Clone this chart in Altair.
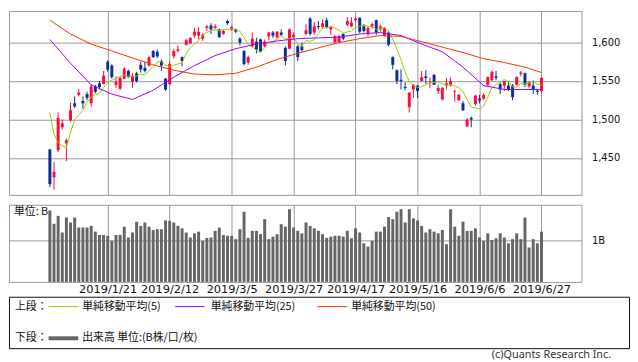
import altair as alt
import pandas as pd

# ---------------- data ----------------
opens = [1461, 1425, 1460, 1490, 1469, 1499, 1521, 1532, 1524, 1533,
         1521, 1543, 1547, 1546, 1575, 1570, 1545, 1540, 1553, 1563,
         1549, 1560, 1571, 1567, 1570, 1589, 1588, 1576, 1553, 1546,
         1582, 1589, 1581, 1597, 1599, 1609, 1609, 1605, 1619, 1622,
         1619, 1617, 1611, 1628, 1617, 1617, 1605, 1589, 1574, 1595,
         1601, 1604, 1595, 1608, 1613, 1607, 1613, 1593, 1592, 1607,
         1595, 1595, 1611, 1631, 1613, 1621.5, 1620, 1629, 1617, 1600,
         1600, 1611, 1623, 1621, 1629, 1632, 1621, 1611, 1621, 1629,
         1617, 1609, 1613, 1581, 1564, 1551.5, 1542.5, 1516, 1539, 1544,
         1550, 1556, 1549, 1558, 1537, 1526, 1544, 1545, 1536, 1525,
         1521, 1491, 1502, 1520, 1527, 1527, 1545, 1551, 1556, 1546,
         1544, 1544, 1544, 1545, 1559, 1560, 1543, 1544, 1537.5, 1537]
highs = [1462, 1445, 1509, 1500, 1475, 1522, 1530, 1540, 1530, 1536,
         1546, 1545, 1550, 1563, 1577, 1572, 1556, 1556, 1568, 1565,
         1560, 1562, 1575, 1575, 1583, 1590, 1591, 1578, 1554, 1575,
         1592, 1596, 1582, 1605, 1607, 1619, 1620, 1612, 1623, 1625,
         1624, 1618, 1617, 1630, 1622, 1618, 1607, 1590, 1583, 1613,
         1606, 1605, 1604, 1614, 1615, 1615, 1617, 1595, 1618, 1613,
         1597, 1600, 1624, 1633, 1627, 1628, 1630, 1632, 1621, 1610,
         1610, 1612, 1633, 1633, 1633, 1633, 1624, 1621, 1626, 1630,
         1623, 1620, 1615, 1582, 1565, 1565, 1548, 1535, 1546, 1545,
         1563, 1564, 1555, 1559, 1545, 1542, 1554, 1555, 1539, 1533,
         1524, 1502, 1504, 1532, 1532, 1534, 1556, 1563, 1563, 1548,
         1550, 1550, 1546, 1556, 1563, 1561, 1550, 1551, 1539, 1555]
lows = [1412, 1409, 1458, 1487, 1446, 1497, 1515, 1530, 1514, 1525,
        1517, 1534, 1539, 1546, 1562, 1553, 1541, 1538, 1553, 1554,
        1541, 1548, 1561, 1561, 1569, 1580, 1580, 1563, 1537, 1545,
        1579, 1587, 1569, 1596, 1598, 1606, 1604, 1602, 1615, 1611,
        1617, 1606, 1610, 1623, 1615, 1612, 1596, 1570, 1571, 1594,
        1586, 1587, 1594, 1603, 1606, 1604, 1608, 1570, 1591, 1604,
        1576, 1588, 1610, 1609, 1610, 1617, 1618, 1618, 1610, 1598,
        1600, 1603, 1621, 1620, 1627, 1612, 1613, 1608, 1618, 1610,
        1614, 1608, 1595, 1565, 1546, 1539, 1538, 1509, 1528, 1528,
        1549, 1546, 1541, 1545, 1533, 1525, 1539, 1543, 1523, 1524,
        1511, 1490, 1490, 1518, 1521, 1525, 1543, 1550, 1551, 1533,
        1537, 1537, 1525, 1544, 1556, 1542, 1541, 1533, 1532, 1535]
closes = [1416, 1432, 1502, 1495, 1473, 1512, 1517, 1535, 1521, 1528,
          1543, 1536, 1542, 1557, 1565, 1555, 1549, 1554, 1566, 1555,
          1557, 1550, 1565, 1563, 1581, 1581, 1582, 1570, 1539, 1572,
          1589, 1591, 1576, 1603, 1606, 1614, 1614, 1610, 1621, 1617,
          1621, 1607, 1615, 1625, 1620, 1614, 1600, 1572, 1581, 1605,
          1591, 1588, 1601, 1613, 1609, 1614, 1610, 1576, 1617, 1610,
          1581, 1590, 1616, 1611, 1621, 1620, 1625, 1620, 1620, 1608,
          1608, 1605, 1628, 1626, 1631, 1614, 1615, 1619, 1624, 1613,
          1621, 1619, 1597, 1571, 1550, 1550, 1541, 1535, 1545, 1537,
          1555, 1554, 1550, 1545, 1541, 1541, 1547, 1550, 1537, 1532,
          1512, 1500, 1500, 1531, 1525, 1532, 1555, 1562, 1554, 1539,
          1550, 1539, 1529, 1555, 1561, 1545, 1548, 1539, 1536, 1554]
volumes = [1.72, 1.40, 1.59, 1.19, 1.55, 1.43, 1.55, 1.31, 1.31, 1.31,
           1.35, 1.21, 1.13, 1.13, 1.11, 0.99, 1.13, 1.13, 1.33, 1.07,
           1.19, 1.45, 1.35, 1.43, 1.33, 1.25, 1.27, 1.27, 1.48, 1.47,
           1.43, 1.35, 1.29, 1.19, 1.07, 1.17, 1.21, 0.99, 1.06, 1.07,
           1.23, 1.31, 1.13, 1.11, 1.11, 1.03, 1.27, 1.69, 1.06, 1.23,
           1.23, 1.15, 1.51, 1.03, 1.09, 1.15, 1.39, 1.33, 1.75, 1.31,
           1.23, 1.17, 1.43, 1.35, 1.29, 1.23, 1.15, 1.06, 1.09, 1.11,
           1.11, 1.09, 1.23, 1.05, 1.29, 1.19, 0.93, 0.85, 0.99, 1.21,
           1.21, 1.33, 1.56, 1.51, 1.69, 1.75, 1.43, 1.75, 1.53, 1.48,
           1.35, 1.19, 1.27, 1.21, 1.17, 1.25, 0.91, 1.75, 1.33, 1.11,
           1.45, 1.23, 1.23, 1.29, 1.07, 0.99, 1.17, 1.01, 1.05, 1.17,
           1.07, 0.93, 1.03, 1.17, 1.03, 1.55, 0.83, 1.03, 0.93, 1.21]

# 5-day average for the first days (they depend on earlier sessions)
ma5_head = [1509, 1481, 1470, 1466]
# 25- and 50-day averages read at sample sessions
ma_idx = [0, 5, 10, 15, 20, 25, 30, 35, 40, 45, 50, 55, 60, 65, 70, 75,
          80, 85, 90, 95, 100, 105, 110, 115, 119]
ma25 = [1604, 1573, 1545, 1533, 1526, 1538, 1555, 1570, 1583, 1592, 1598,
        1602, 1605, 1606, 1607, 1611, 1613, 1609, 1598, 1588, 1568, 1544,
        1539, 1539, 1539]
ma50 = [1629, 1611, 1598, 1589, 1580, 1571, 1564, 1559, 1558, 1560, 1568,
        1578, 1586, 1593, 1600, 1605, 1609, 1608, 1601, 1594, 1587, 1579,
        1574, 1568, 1561]

tick_idx = [14, 29, 44, 59, 74, 89, 104, 119]
tick_labels = ["2019/1/21", "2019/2/12", "2019/3/5", "2019/3/27",
               "2019/4/17", "2019/5/16", "2019/6/6", "2019/6/27"]
price_ticks = [1450, 1500, 1550, 1600]

legend_names = ["単純移動平均(5)", "単純移動平均(25)", "単純移動平均(50)"]
legend_colors = ["#99cc00", "#9900ff", "#ff3300"]

# ---------------- build tables ----------------
n = len(closes)
df = pd.DataFrame({"i": list(range(n)), "open": opens, "high": highs,
                   "low": lows, "close": closes, "vol": volumes})
df["dir"] = ["up" if c >= o else "down" for o, c in zip(opens, closes)]
df["ma5"] = ma5_head + list(pd.Series(closes).rolling(5).mean()[4:])
ma_df = pd.DataFrame({"i": ma_idx, "ma25": ma25, "ma50": ma50})

RED, BLUE = "#ff0a3c", "#0a2f96"
GRID = "#999999"
W = 579
xs = alt.Scale(domain=[-8.7, 127.5], nice=False, zero=False)
ys = alt.Scale(domain=[1402, 1641], nice=False, zero=False)
col = alt.Color("dir:N", scale=alt.Scale(domain=["up", "down"], range=[RED, BLUE]), legend=None)

x_axis_top = alt.Axis(values=tick_idx, labels=False, ticks=False, domain=False,
                      grid=True, gridColor=GRID, gridOpacity=1, title=None)
y_axis_top = alt.Axis(orient="right", values=price_ticks,
                      labelExpr="format(datum.value, ',')", ticks=False,
                      domain=False, grid=True, gridColor=GRID, gridOpacity=1,
                      labelPadding=10, labelFont="DejaVu Sans", labelFontSize=10,
                      labelColor="#111", title=None)


def X():
    return alt.X("i:Q", scale=xs, axis=x_axis_top, title=None)


def Y(field):
    return alt.Y(field, scale=ys, axis=y_axis_top, title=None)


base = alt.Chart(df)
wick = base.mark_rule(strokeWidth=1).encode(x=X(), y=Y("low:Q"), y2="high:Q", color=col)
body = base.mark_bar(width=3).encode(x=X(), y=Y("open:Q"), y2="close:Q", color=col)
l5 = base.mark_line(strokeWidth=1, color=legend_colors[0], clip=True).encode(
    x=X(), y=Y("ma5:Q"))
l25 = alt.Chart(ma_df).mark_line(strokeWidth=1, color=legend_colors[1], clip=True).encode(
    x=X(), y=Y("ma25:Q"))
l50 = alt.Chart(ma_df).mark_line(strokeWidth=1, color=legend_colors[2], clip=True).encode(
    x=X(), y=Y("ma50:Q"))

top = alt.layer(wick, body, l5, l25, l50).properties(
    width=W, height=186, view=alt.ViewBackground(stroke=GRID))

# ---------------- volume panel ----------------
label_expr = "".join(f"datum.value == {v} ? '{t}' : " for v, t in zip(tick_idx, tick_labels)) + "''"
vbars = base.mark_bar(width=3, color="#666666").encode(
    x=alt.X("i:Q", scale=xs, title=None,
            axis=alt.Axis(values=tick_idx, labelExpr=label_expr, ticks=False, domain=False,
                          grid=True, gridColor=GRID, gridOpacity=1, labelPadding=2,
                          labelFont="DejaVu Sans", labelFontSize=11.5, labelColor="#111",
                          labelFlush=False, title=None)),
    y=alt.Y("vol:Q", scale=alt.Scale(domain=[0, 1.857], nice=False), title=None,
            axis=alt.Axis(orient="right", values=[1], labelExpr="'1B'", ticks=False,
                          domain=False, grid=True, gridColor=GRID, gridOpacity=1,
                          labelPadding=10, labelFont="DejaVu Sans", labelFontSize=10,
                          labelColor="#111", title=None)),
)
unit_txt = alt.Chart(pd.DataFrame({"t": ["単位: B"]})).mark_text(
    align="left", baseline="middle", fontSize=11, font="Noto Sans CJK JP", color="#111"
).encode(text="t:N", x=alt.value(5), y=alt.value(7))
vol = alt.layer(vbars, unit_txt).properties(
    width=W, height=78, view=alt.ViewBackground(stroke=GRID))

# ---------------- legend box ----------------
FONT = "Noto Sans CJK JP"
one = pd.DataFrame({"k": [0]})
leg_layers = []
leg_layers.append(alt.Chart(pd.DataFrame({"t": ["上段："]})).mark_text(
    align="left", baseline="middle", fontSize=11, font=FONT, color="#111"
).encode(text="t:N", x=alt.value(6), y=alt.value(10)))
leg_layers.append(alt.Chart(pd.DataFrame({"t": ["下段："]})).mark_text(
    align="left", baseline="middle", fontSize=11, font=FONT, color="#111"
).encode(text="t:N", x=alt.value(6), y=alt.value(42)))
line_x = [40, 168, 312]
text_x = [74, 204, 346]
for name, c, lx, tx in zip(legend_names, legend_colors, line_x, text_x):
    leg_layers.append(alt.Chart(one).mark_rule(color=c, strokeWidth=1).encode(
        x=alt.value(lx), x2=alt.value(lx + 30), y=alt.value(10)))
    leg_layers.append(alt.Chart(pd.DataFrame({"t": [name]})).mark_text(
        align="left", baseline="middle", fontSize=11, font=FONT, color="#111"
    ).encode(text="t:N", x=alt.value(tx), y=alt.value(10)))
leg_layers.append(alt.Chart(one).mark_rule(color="#666666", strokeWidth=4).encode(
    x=alt.value(40), x2=alt.value(70), y=alt.value(42)))
leg_layers.append(alt.Chart(pd.DataFrame({"t": ["出来高 単位:(B株/口/枚)"]})).mark_text(
    align="left", baseline="middle", fontSize=11, font=FONT, color="#111"
).encode(text="t:N", x=alt.value(74), y=alt.value(42)))

legend = alt.layer(*leg_layers).properties(
    width=627, height=52, view=alt.ViewBackground(stroke="#111"),
    title=alt.TitleParams("(c)Quants Research Inc.", orient="bottom", anchor="end",
                          fontSize=11, font="Noto Sans", fontWeight="normal",
                          color="#333", offset=1, dx=-18))

chart = alt.vconcat(alt.vconcat(top, vol, spacing=8), legend, spacing=0).properties(
    padding=0).configure(background="white").configure_view(strokeWidth=1)

chart.save("out.html", embed_options={"renderer": "svg", "actions": False})
